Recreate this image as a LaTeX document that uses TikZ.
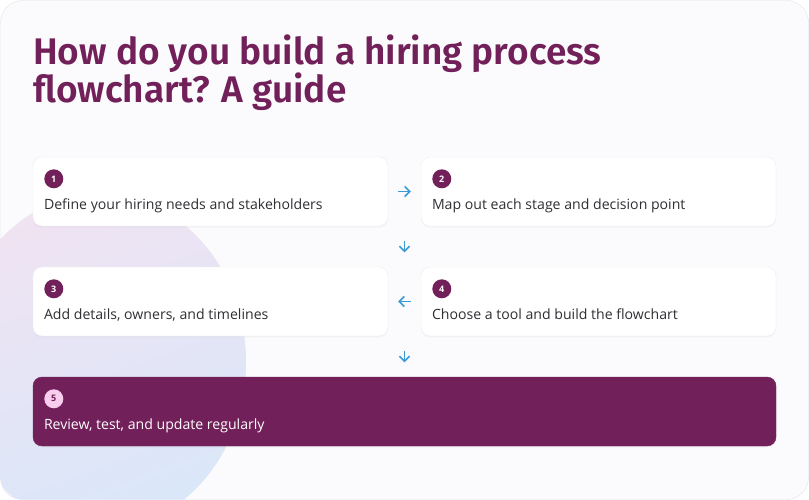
\documentclass[tikz,border=0pt]{standalone}
\usepackage{fontspec}
\setmainfont{Open Sans}
\newfontfamily\titlefont{Fira Sans SemiBold}
\usepackage{tikz}
\usetikzlibrary{arrows.meta,positioning,calc,shadows}

\definecolor{plum}{HTML}{72205A}
\definecolor{pinkdot}{HTML}{F8CDEE}
\definecolor{inktext}{HTML}{2F2F33}
\definecolor{flowblue}{HTML}{3A9AD6}
\definecolor{cardbg}{HTML}{FBFAFC}
\definecolor{cardline}{HTML}{E3E3E8}
\definecolor{blobpink}{HTML}{F0E3F2}
\definecolor{blobblue}{HTML}{D9E7F9}

\begin{document}
\begin{tikzpicture}[
    x=1pt, y=-1pt,
    stepbox/.style={rectangle, rounded corners=9pt, fill=white, draw=black!7,
        minimum width=355pt, minimum height=69pt,
        drop shadow={opacity=0.06, shadow xshift=0pt, shadow yshift=-1.5pt}},
    lastbox/.style={stepbox, fill=plum, draw=plum, minimum width=743pt},
    num/.style={circle, fill=plum, text=white, inner sep=0pt, minimum size=19pt,
        font=\fontsize{9}{9}\selectfont\bfseries},
    lastnum/.style={num, fill=pinkdot, text=plum},
    steptext/.style={anchor=base west, inner sep=0pt, text=inktext,
        font=\fontsize{14.1}{16}\selectfont},
    heading/.style={anchor=base west, inner sep=0pt, text=plum,
        font=\titlefont\fontsize{37}{40}\selectfont},
    flow/.style={-{Straight Barb[length=5pt, width=10pt]}, flowblue, line width=1.5pt}
]
\useasboundingbox (0,0) rectangle (809,500);

% Card and background blob
\draw[cardline, fill=cardbg, rounded corners=22pt] (0.5,0.5) rectangle (808.5,499.5);
\begin{scope}
\clip[rounded corners=22pt] (0.5,0.5) rectangle (808.5,499.5);
\shade[top color=blobpink, bottom color=blobblue, shading angle=20]
    (100,362) ellipse[x radius=146pt, y radius=168pt];
\end{scope}

% Title
\node[heading] (title1) at (33,65) {How do you build a hiring process};
\node[heading] (title2) at (33,103) {flowchart? A guide};

% Steps
\node[stepbox] (s1) at (210.5,191.5) {};
\node[stepbox] (s2) at (598.5,191.5) {};
\node[stepbox] (s3) at (210.5,301.5) {};
\node[stepbox] (s4) at (598.5,301.5) {};
\node[lastbox] (s5) at (404.5,411.5) {};

\node[num] (n1) at ($(s1.north west)+(21,22)$) {1};
\node[num] (n2) at ($(s2.north west)+(21,22)$) {2};
\node[num] (n3) at ($(s3.north west)+(21,22)$) {3};
\node[num] (n4) at ($(s4.north west)+(21,22)$) {4};
\node[lastnum] (n5) at ($(s5.north west)+(21,22)$) {5};

\node[steptext] (t1) at ($(s1.north west)+(11,53)$) {Define your hiring needs and stakeholders};
\node[steptext] (t2) at ($(s2.north west)+(11,53)$) {Map out each stage and decision point};
\node[steptext] (t3) at ($(s3.north west)+(11,53)$) {Add details, owners, and timelines};
\node[steptext] (t4) at ($(s4.north west)+(11,53)$) {Choose a tool and build the flowchart};
\node[steptext, text=white] (t5) at ($(s5.north west)+(11,53)$) {Review, test, and update regularly};

% Connectors
\coordinate (gapA) at ($(s1.south east)!0.5!(s2.south west)$);
\coordinate (gapB) at ($(s3.north east)!0.5!(s4.north west)$);
\coordinate (gapC) at ($(s3.south east)!0.5!(s4.south west)$);
\coordinate (gapD) at ($(s5.north west)!0.5!(s5.north east)$);
\draw[flow, shorten <=10pt, shorten >=10pt] (s1.east) -- (s2.west);
\draw[flow, shorten <=14.5pt, shorten >=14.5pt] (gapA) -- (gapB);
\draw[flow, shorten <=10pt, shorten >=10pt] (s4.west) -- (s3.east);
\draw[flow, shorten <=14.5pt, shorten >=14.5pt] (gapC) -- (gapD);
\end{tikzpicture}
\end{document}
